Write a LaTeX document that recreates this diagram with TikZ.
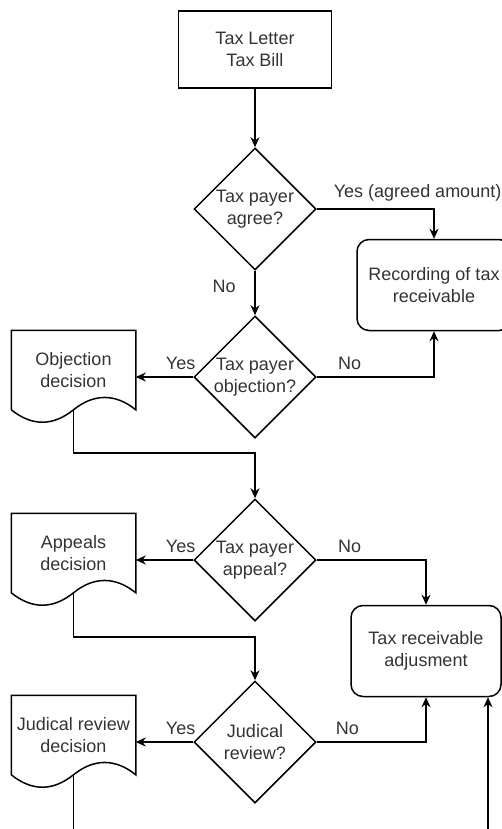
\documentclass[tikz,border=0pt]{standalone}
\usepackage{fontspec}
\setmainfont{Liberation Sans}
\usetikzlibrary{shapes,arrows.meta}
\tikzset{
	block/.style    = {draw, rectangle, minimum width = 76.5pt,
		minimum height = 38.5pt, align = center},
	decision/.style = {draw, diamond, aspect = 1, minimum width = 61pt,
		minimum height = 61pt, inner sep = 0pt, align = center},
	process/.style  = {draw, rectangle, rounded corners = 6pt,
		minimum width = 75pt, minimum height = 45.5pt, align = center},
	docbox/.style   = {rectangle, minimum width = 61.5pt,
		minimum height = 39pt, inner sep = 0pt, align = center}, % Document
	exit/.style     = {coordinate} % Off page
}
\definecolor{ink}{RGB}{51,51,51}

\begin{document}
\begin{tikzpicture}[x=0.5pt, y=-0.5pt, line width=0.75pt, text=ink,
	>={Stealth[length=5pt, width=4.5pt]}, font=\fontsize{9pt}{11pt}\selectfont]
	\useasboundingbox (0,0) rectangle (502,829);
	\draw
	% Main column of questions
	node at (255,49.5)[block] (letter) {Tax Letter\\Tax Bill}
	node at (255,209)[decision] (agree) {Tax payer\\agree?}
	node at (255,377)[decision] (object) {Tax payer\\objection?}
	node at (255,560)[decision] (appeal) {Tax payer\\appeal?}
	node at (255,742)[decision] (review) {Judical\\review?}
	% Receivable boxes
	node at (434,285)[process, minimum width = 77pt] (record) {Recording of tax\\receivable}
	node at (426,651)[process] (adjust) {Tax receivable\\adjusment}
	% Decision documents
	node at (73.5,370)[docbox] (objdoc) {Objection\\decision}
	node at (73.5,553)[docbox] (appdoc) {Appeals\\decision}
	node at (73.5,735)[docbox] (revdoc) {Judical review\\decision};
	
	\coordinate[exit] (out) at (73.5,835);
	\coordinate[exit] (in) at (488,835);
	
	% Wavy bottom of the documents
	\foreach \d in {objdoc,appdoc,revdoc}
	\draw (\d.south west) -- (\d.north west) -- (\d.north east) -- (\d.south east)
	.. controls +(-10.25pt,8.2pt) and +(10.25pt,8.2pt) .. (\d.south)
	.. controls +(-10.25pt,-8.3pt) and +(10.25pt,-8.3pt) .. (\d.south west);
	
	\draw[->](letter) -- (agree);
	\draw[->](agree.east) -| node[pos=0.43, above] {Yes (agreed amount)} (record.north);
	\draw[->](agree) -- node[pos=0.35, left=6pt] {No} (object);
	\draw[->](object.east) -| node[pos=0.14, above] {No} (record.south);
	\draw[->](object.west) -- node[pos=0.22, above] {Yes} (object.west -| objdoc.east);
	\draw[->](objdoc.south) -- ++(0,43) -| (appeal.north);
	\draw[->](appeal.east) -| node[pos=0.15, above] {No} (adjust.north);
	\draw[->](appeal.west) -- node[pos=0.22, above] {Yes} (appeal.west -| appdoc.east);
	\draw[->](appdoc.south) -- ++(0,44) -| (review.north);
	\draw[->](review.east) -| node[pos=0.14, above] {No} (adjust.south);
	\draw[->](review.west) -- node[pos=0.22, above] {Yes} (review.west -| revdoc.east);
	\draw[-](revdoc.south) -- (out);
	\draw[->](in) -- (in |- adjust.south);
	
\end{tikzpicture}
\end{document}
